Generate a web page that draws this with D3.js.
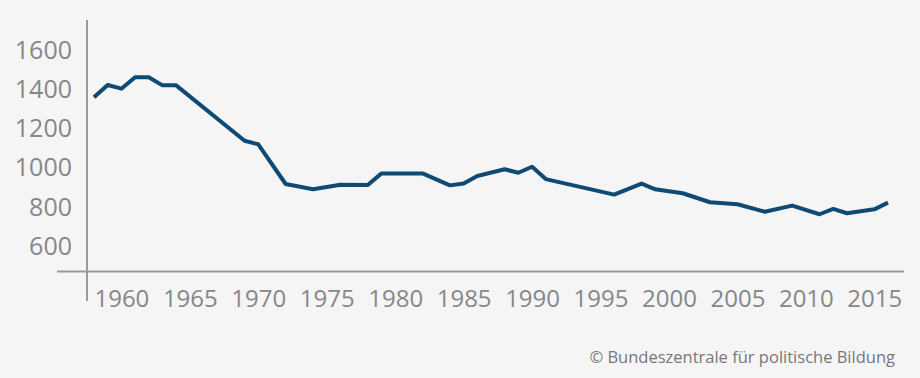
<!DOCTYPE html>
<html>
<head>
<meta charset="utf-8">
<script src="https://cdn.jsdelivr.net/npm/d3@7"></script>
<style>
  html, body { margin: 0; padding: 0; background: #f5f5f5; }
  svg { display: block; }
</style>
</head>
<body>
<div id="chart"></div>
<script>
// values (vertices of the line)
const years = [1958, 1959, 1960, 1961, 1962, 1963, 1964, 1969, 1970, 1972, 1974, 1976,
  1978, 1979, 1982, 1984, 1985, 1986, 1988, 1989, 1990, 1991, 1996, 1998, 1999, 2001,
  2003, 2005, 2007, 2009, 2011, 2012, 2013, 2015, 2016];
const values = [1354, 1417, 1398, 1456, 1456, 1415, 1415, 1133, 1115, 913, 886, 909,
  908, 967, 967, 906, 915, 954, 988, 970, 1001, 938, 859, 915, 886, 866,
  820, 810, 772, 803, 759, 786, 764, 784, 818];
const yTicks = [600, 800, 1000, 1200, 1400, 1600];
const xTicks = [1960, 1965, 1970, 1975, 1980, 1985, 1990, 1995, 2000, 2005, 2010, 2015];
const source = "© Bundeszentrale für politische Bildung";

const LINE_COLOR = "#0f4a74";
const AXIS_COLOR = "#9b9b9b";
const LABEL_COLOR = "#878787";

const width = 920, height = 378;
const axisX = 87, axisY = 271.5;

const data = years.map((y, i) => ({ year: y, value: values[i] }));

const svg = d3.select("#chart").append("svg")
  .attr("width", width)
  .attr("height", height);

svg.append("rect").attr("width", width).attr("height", height).attr("fill", "#f5f5f5");

const x = d3.scaleLinear().domain([1958, 2016]).range([94, 888]);
const y = d3.scaleLinear().domain([600, 1600]).range([245.5, 49]);

// axis lines
svg.append("line")
  .attr("x1", axisX).attr("x2", axisX)
  .attr("y1", 20).attr("y2", 301)
  .attr("stroke", AXIS_COLOR).attr("stroke-width", 2);
svg.append("line")
  .attr("x1", 57).attr("x2", 904)
  .attr("y1", axisY).attr("y2", axisY)
  .attr("stroke", AXIS_COLOR).attr("stroke-width", 2);

// y labels
const yAxisG = svg.append("g")
  .attr("transform", `translate(72,0)`)
  .call(d3.axisLeft(y).tickValues(yTicks).tickSize(0).tickPadding(0).tickFormat(d3.format("d")));
yAxisG.select(".domain").remove();
yAxisG.selectAll("text")
  .attr("fill", LABEL_COLOR)
  .attr("font-family", "'Open Sans', sans-serif")
  .attr("font-size", "25px")
  .attr("dy", "0.36em");

// x labels
const xAxisG = svg.append("g")
  .attr("transform", `translate(0,${axisY})`)
  .call(d3.axisBottom(x).tickValues(xTicks).tickSize(0).tickFormat(d3.format("d")));
xAxisG.select(".domain").remove();
xAxisG.selectAll("text")
  .attr("fill", LABEL_COLOR)
  .attr("font-family", "'Open Sans', sans-serif")
  .attr("font-size", "24px")
  .attr("y", 35)
  .attr("dy", null);

// the line
const line = d3.line()
  .x((d) => x(d.year))
  .y((d) => y(d.value));

svg.append("path")
  .datum(data)
  .attr("d", line)
  .attr("fill", "none")
  .attr("stroke", LINE_COLOR)
  .attr("stroke-width", 4)
  .attr("stroke-linejoin", "round");

// source
svg.append("text")
  .attr("x", 895)
  .attr("y", 363)
  .attr("text-anchor", "end")
  .attr("fill", "#777")
  .attr("font-family", "'Open Sans', sans-serif")
  .attr("font-size", "16.5px")
  .text(source);
</script>
</body>
</html>
